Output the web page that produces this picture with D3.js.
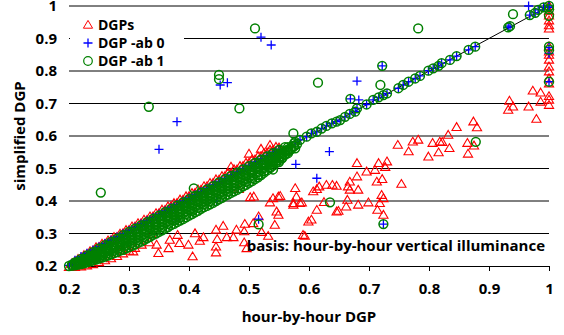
<!DOCTYPE html>
<html>
<head>
<meta charset="utf-8">
<script src="https://cdn.jsdelivr.net/npm/d3@7"></script>
<style>
  body { margin: 0; background: #fff; }
  svg text { font-family: "Open Sans", sans-serif; font-weight: bold; fill: #000; }
</style>
</head>
<body>
<svg id="chart" width="564" height="335"></svg>
<script>
// axis ticks
const xTicks = [0.2, 0.3, 0.4, 0.5, 0.6, 0.7, 0.8, 0.9, 1];
const yTicks = [0.2, 0.3, 0.4, 0.5, 0.6, 0.7, 0.8, 0.9, 1];
const gridValues = [0.3, 0.4, 0.5, 0.6, 0.7, 0.8, 0.9, 1];

const bandX = [0.20,0.21,0.22,0.23,0.24,0.25,0.26,0.27,0.28,0.29,0.30,0.31,0.32,0.33,0.34,0.35,0.36,0.37,0.38,0.39,
  0.40,0.41,0.42,0.43,0.44,0.45,0.46,0.47,0.48,0.49,0.50,0.51,0.52,0.53,0.54,0.55,0.56,0.57,0.58];
const bandXHalf = [0.205,0.215,0.225,0.235,0.245,0.255,0.265,0.275,0.285,0.295,0.305,0.315,0.325,0.335,0.345,0.355,
  0.365,0.375,0.385,0.395,0.405,0.415,0.425,0.435,0.445,0.455,0.465,0.475,0.485,0.495,0.505,0.515,0.525,0.535,0.545,
  0.555,0.565,0.575];

// DGPs band (red): top edge, second row
const dgpsTop = [0.208,0.221,0.233,0.245,0.257,0.268,0.278,0.289,0.299,0.310,0.321,0.331,0.342,0.352,0.362,0.373,
  0.383,0.393,0.404,0.414,0.424,0.435,0.445,0.455,0.466,0.476,0.486,0.497,0.507,0.517,0.527,0.537,0.547,0.557,0.566,
  null,null,null];
const dgpsUpper = [null,0.214,0.225,0.236,0.247,0.258,0.268,0.279,0.289,0.300,0.310,0.321,0.331,0.341,0.352,0.362,
  0.372,0.383,0.393,0.403,0.414,0.424,0.434,0.445,0.455,0.465,0.476,0.486,0.496,0.507,0.517,0.527,0.537,0.547,0.556,
  0.564,null,null,null];
const dgpsLowerEdge = [
  [0.20,0.196],[0.21,0.196],[0.22,0.198],[0.23,0.201],[0.24,0.205],[0.25,0.211],[0.26,0.217],[0.27,0.223],
  [0.28,0.230],[0.29,0.238],[0.30,0.246],[0.31,0.255]
];

// DGPs scattered below the diagonal and at x = 1
const dgpsScatter = [
  [0.47,0.505],[0.50,0.545],[0.52,0.560],[0.535,0.572],
  [0.288,0.249],[0.307,0.244],[0.321,0.265],[0.334,0.272],[0.337,0.298],[0.346,0.265],[0.349,0.239],[0.366,0.254],
  [0.368,0.280],[0.381,0.295],[0.384,0.270],[0.399,0.265],[0.406,0.229],[0.410,0.300],[0.418,0.277],[0.424,0.288],
  [0.445,0.311],[0.447,0.282],[0.445,0.259],[0.445,0.241],[0.457,0.323],[0.463,0.288],[0.474,0.288],[0.479,0.311],
  [0.492,0.306],[0.493,0.329],[0.492,0.272],[0.496,0.254],[0.507,0.331],[0.516,0.352],[0.521,0.304],[0.532,0.292],
  [0.543,0.326],[0.549,0.357],[0.546,0.367],[0.535,0.395],[0.574,0.393],[0.585,0.393],[0.590,0.295],[0.599,0.336],
  [0.604,0.342],[0.593,0.292],
  [0.483,0.436],[0.502,0.411],[0.508,0.413],[0.540,0.408],[0.549,0.413],[0.552,0.415],[0.577,0.439],[0.579,0.413],
  [0.588,0.395],[0.574,0.388],[0.607,0.429],[0.613,0.436],[0.617,0.444],[0.629,0.449],[0.639,0.449],[0.646,0.446],
  [0.613,0.372],[0.646,0.367],[0.625,0.396],[0.649,0.369],[0.664,0.403],[0.662,0.382],[0.682,0.388],[0.699,0.395],
  [0.665,0.444],[0.668,0.434],[0.668,0.459],[0.680,0.475],[0.682,0.434],[0.680,0.516],[0.696,0.490],[0.710,0.495],
  [0.716,0.516],[0.730,0.521],[0.727,0.504],[0.713,0.459],[0.722,0.467],[0.754,0.452],[0.721,0.418],[0.724,0.408],
  [0.718,0.393],[0.714,0.372],[0.724,0.357],
  [0.748,0.572],[0.773,0.582],[0.782,0.588],[0.766,0.552],[0.799,0.536],[0.806,0.578],[0.818,0.582],[0.822,0.581],
  [0.816,0.549],[0.832,0.603],[0.834,0.562],[0.846,0.627],[0.864,0.578],[0.865,0.545],[0.875,0.570],[0.874,0.644],
  [0.880,0.626],[0.934,0.708],[0.940,0.690],[0.932,0.680],[0.966,0.690],[0.979,0.652],[0.973,0.739],[0.986,0.733],
  [0.986,0.705],
  [1,0.695],[1,0.711],[1,0.722],[1,0.761],[1,0.777],[1,0.798],[1,0.813],[1,0.834],[1,0.849],[1,0.859],[1,0.875],
  [1,0.930],[1,0.940],[1,0.955],[1,0.970],[1,0.985],[1,1]
];

// DGP -ab 0 band (blue), just under the red top edge
const ab0Upper = [0.202,0.218,0.229,0.239,0.249,0.259,0.269,0.279,0.289,0.299,0.309,0.319,0.329,0.339,0.349,0.359,
  0.369,0.379,0.389,0.399,0.409,0.419,0.429,0.439,0.449,0.459,0.469,0.479,0.489,0.499,0.509,0.519,0.529,0.539,0.549,
  0.558,null,null,null];
const ab0Mid = [0.207,0.219,0.229,0.240,0.251,0.260,0.270,0.281,0.290,0.300,0.311,0.320,0.330,0.341,0.350,0.360,
  0.371,0.380,0.390,0.401,0.410,0.420,0.431,0.440,0.450,0.461,0.470,0.480,0.491,0.500,0.510,0.521,0.530,0.540,0.551,
  null,null,null];
const ab0Scatter = [
  [0.350,0.559],[0.380,0.644],[0.452,0.757],[0.464,0.764],[0.520,0.904],[0.537,0.880],[0.446,0.400],[0.516,0.344],
  [0.578,0.513],[0.613,0.470],[0.634,0.552],[0.680,0.769],[0.669,0.714],[0.683,0.711],[0.722,0.816],[0.724,0.329],
  [0.378,0.342],[0.966,1.000],[1,0.767],[1,0.854],[1,0.872],[1,0.996],
  [0.577,0.582],[0.585,0.588],[0.596,0.598],[0.604,0.608],[0.613,0.613],[0.621,0.623],[0.629,0.631],[0.638,0.639],
  [0.646,0.644],[0.652,0.649],[0.660,0.659],[0.668,0.668],[0.677,0.675],[0.680,0.685],[0.696,0.697],[0.707,0.711],
  [0.716,0.719],[0.724,0.726],[0.730,0.731],[0.749,0.747],[0.757,0.757],[0.766,0.767],[0.777,0.777],[0.785,0.785],
  [0.799,0.801],[0.807,0.808],[0.816,0.816],[0.821,0.824],[0.835,0.834],[0.846,0.846],[0.866,0.865],[0.877,0.875],
  [0.932,0.934],[0.935,0.938],[0.968,0.972],[0.977,0.979],[0.982,0.988],[0.991,0.996],[1,1]
];

// DGP -ab 1 band (green), rows from bottom edge to top
const ab1Row0 = [0.200,0.202,0.206,0.211,0.217,0.223,0.229,0.236,0.243,0.250,0.258,0.266,0.275,0.285,0.296,0.305,
  0.315,0.326,0.335,0.344,0.355,0.365,0.376,0.385,0.394,0.405,0.416,0.425,0.434,0.445,0.456,0.467,0.480,0.494,0.509,
  0.525,0.542,null,null];
const ab1Row0b = [0.201,0.204,0.208,0.214,0.220,0.226,0.232,0.240,0.247,0.254,0.262,0.271,0.280,0.290,0.300,0.310,
  0.320,0.330,0.340,0.350,0.360,0.370,0.381,0.390,0.400,0.410,0.420,0.430,0.440,0.450,0.461,0.473,0.487,0.501,0.517,
  0.533,null,null];
const ab1Row1 = [0.202,0.206,0.211,0.218,0.225,0.232,0.239,0.247,0.255,0.263,0.271,0.280,0.289,0.299,0.310,0.319,
  0.329,0.340,0.349,0.359,0.369,0.379,0.390,0.399,0.409,0.420,0.429,0.439,0.449,0.459,0.470,0.480,0.492,0.504,0.518,
  0.531,0.547,null];
const ab1Row2 = [null,0.205,0.211,0.218,0.226,0.234,0.242,0.250,0.258,0.266,0.275,0.284,0.293,0.303,0.313,0.323,
  0.333,0.343,0.353,0.363,0.373,0.383,0.393,0.403,0.413,0.423,0.433,0.443,0.453,0.463,0.473,0.484,0.495,0.507,0.519,
  0.532,0.545,0.559,null];
const ab1Row2b = [null,0.208,0.214,0.222,0.230,0.238,0.246,0.254,0.262,0.271,0.280,0.289,0.298,0.308,0.318,0.328,
  0.338,0.348,0.358,0.368,0.378,0.388,0.398,0.408,0.418,0.428,0.438,0.448,0.458,0.468,0.478,0.489,0.501,0.513,0.525,
  0.538,0.552,null];
const ab1Row3 = [null,0.209,0.216,0.224,0.232,0.241,0.250,0.259,0.268,0.278,0.288,0.298,0.308,0.318,0.328,0.338,
  0.348,0.358,0.368,0.378,0.388,0.398,0.408,0.418,0.428,0.438,0.448,0.458,0.468,0.478,0.488,0.499,0.510,0.521,0.532,
  0.544,0.556,0.568];
const ab1Row4 = [null,0.207,0.214,0.223,0.232,0.241,0.251,0.261,0.271,0.281,0.291,0.301,0.311,0.322,0.331,0.342,
  0.351,0.362,0.371,0.382,0.391,0.401,0.412,0.421,0.432,0.441,0.452,0.461,0.472,0.481,0.492,0.502,0.512,0.522,0.533,
  0.543,0.553,0.564,0.575];
const ab1Row4b = [null,0.211,0.219,0.228,0.237,0.246,0.256,0.266,0.276,0.286,0.296,0.306,0.317,0.327,0.337,0.347,
  0.357,0.367,0.377,0.387,0.397,0.407,0.417,0.427,0.437,0.447,0.457,0.467,0.477,0.487,0.497,0.507,0.517,0.528,0.538,
  0.548,0.559,0.570];
const ab1Row5 = [0.204,0.213,0.222,0.232,0.243,0.253,0.263,0.273,0.284,0.294,0.304,0.314,0.324,0.334,0.344,0.354,
  0.364,0.374,0.384,0.394,0.404,0.414,0.424,0.434,0.445,0.455,0.465,0.475,0.485,0.495,0.505,0.516,0.526,0.536,0.546,
  0.556,0.566,0.577];
const ab1Row5b = [null,0.211,0.222,0.233,0.243,0.254,0.264,0.274,0.284,0.295,0.305,0.315,0.325,0.335,0.345,0.355,
  0.366,0.376,0.386,0.396,0.406,0.416,0.426,0.436,0.446,0.457,0.467,0.477,0.487,0.497,0.507,0.517,0.527,0.537,0.547,
  0.557,0.566,null,null];
const ab1Scatter = [
  [0.253,0.426],[0.333,0.690],[0.450,0.788],[0.450,0.775],[0.484,0.685],[0.510,0.931],[0.615,0.764],[0.669,0.714],
  [0.719,0.757],[0.722,0.816],[0.782,0.931],[0.940,0.975],[0.635,0.396],[0.724,0.329],[0.516,0.328],[0.378,0.342],
  [0.402,0.372],[0.430,0.403],[0.408,0.439],[0.878,0.582],[0.574,0.608],[0.577,0.562],[0.540,0.497],[0.550,0.520],
  [1,0.767],[1,0.865],[1,0.875],[1,0.970],[1,0.990],
  [0.577,0.582],[0.585,0.588],[0.596,0.598],[0.604,0.608],[0.613,0.613],[0.621,0.623],[0.629,0.631],[0.638,0.639],
  [0.646,0.644],[0.652,0.649],[0.660,0.659],[0.668,0.668],[0.677,0.675],[0.680,0.685],[0.696,0.697],[0.707,0.711],
  [0.716,0.719],[0.724,0.726],[0.730,0.731],[0.749,0.747],[0.757,0.757],[0.766,0.767],[0.777,0.777],[0.785,0.785],
  [0.799,0.801],[0.807,0.808],[0.816,0.816],[0.821,0.824],[0.835,0.834],[0.846,0.846],[0.866,0.865],[0.877,0.875],
  [0.932,0.934],[0.935,0.938],[0.968,0.972],[0.977,0.979],[0.982,0.988],[0.991,0.996],[1,1]
];

const seriesNames = ["DGPs", "DGP -ab 0", "DGP -ab 1"];
const seriesColors = ["#ff0000", "#0000ff", "#008000"];

// pair a row of y readings with its x grid
const row = (xs, ys) => xs.map((v, i) => [v, ys[i]]).filter(d => d[1] != null);

const dgpsPoints = [].concat(row(bandXHalf, dgpsTop), row(bandX, dgpsUpper), dgpsLowerEdge, dgpsScatter);
const ab0Points = [].concat(row(bandX, ab0Upper), row(bandXHalf, ab0Mid), ab0Scatter);
const ab1Points = [].concat(
  row(bandX, ab1Row0), row(bandXHalf, ab1Row0b), row(bandXHalf, ab1Row1), row(bandX, ab1Row2),
  row(bandXHalf, ab1Row2b), row(bandXHalf, ab1Row3), row(bandX, ab1Row4), row(bandXHalf, ab1Row4b),
  row(bandXHalf, ab1Row5), row(bandX, ab1Row5b), ab1Scatter);

const svg = d3.select("#chart");

const x = d3.scaleLinear().domain([0.2, 1]).range([69, 549]);
const y = d3.scaleLinear().domain([0.2, 1]).range([266, 6]);

// gridlines
svg.append("g")
  .selectAll("line")
  .data(gridValues)
  .enter().append("line")
    .attr("x1", x(0.2))
    .attr("x2", x(1))
    .attr("y1", d => y(d))
    .attr("y2", d => y(d))
    .attr("stroke", "#000")
    .attr("stroke-width", 1);

// x axis
svg.append("g")
    .attr("transform", `translate(0,${y(0.2)})`)
    .call(d3.axisBottom(x).tickValues(xTicks).tickSize(5).tickFormat(d => String(d)))
    .call(g => g.select(".domain").attr("stroke", "#000"))
    .call(g => g.selectAll(".tick line").attr("stroke", "#000"))
    .call(g => g.selectAll("text")
      .attr("dy", null)
      .attr("y", 28)
      .style("font-size", "15px")
      .style("font-family", "'Open Sans', sans-serif")
      .style("font-weight", "bold"));

// y axis (labels only)
svg.append("g")
    .attr("transform", `translate(${x(0.2)},0)`)
    .call(d3.axisLeft(y).tickValues(yTicks).tickSize(0).tickPadding(12).tickFormat(d => String(d)))
    .call(g => g.select(".domain").remove())
    .call(g => g.selectAll("text")
      .style("font-size", "15px")
      .style("font-family", "'Open Sans', sans-serif")
      .style("font-weight", "bold"));

// 1:1 line
svg.append("line")
    .attr("x1", x(0.2)).attr("y1", y(0.2))
    .attr("x2", x(1)).attr("y2", y(1))
    .attr("stroke", "#000")
    .attr("stroke-width", 1);

const triangle = "M0,-4.6L4.6,3.2L-4.6,3.2Z";
const plus = "M-4.5,0H4.5M0,-4.5V4.5";

function drawSeries(data, kind, color) {
  const g = svg.append("g");
  if (kind === "circle") {
    g.selectAll("circle")
      .data(data)
      .enter().append("circle")
        .attr("cx", d => x(d[0]))
        .attr("cy", d => y(d[1]))
        .attr("r", 4.4)
        .attr("fill", "none")
        .attr("stroke", color)
        .attr("stroke-width", 1.5);
  } else {
    g.selectAll("path")
      .data(data)
      .enter().append("path")
        .attr("transform", d => `translate(${x(d[0])},${y(d[1])})`)
        .attr("d", kind === "triangle" ? triangle : plus)
        .attr("fill", "none")
        .attr("stroke", color)
        .attr("stroke-width", kind === "triangle" ? 1.1 : 1.3);
  }
}

drawSeries(dgpsPoints, "triangle", seriesColors[0]);
drawSeries(ab0Points, "plus", seriesColors[1]);
drawSeries(ab1Points, "circle", seriesColors[2]);

// legend
const legend = svg.append("g");
legend.append("rect")
    .attr("x", 70).attr("y", 9)
    .attr("width", 114).attr("height", 60)
    .attr("fill", "#fff");
const kinds = ["triangle", "plus", "circle"];
seriesNames.forEach((name, i) => {
  const ly = 25 + i * 18;
  if (kinds[i] === "circle") {
    legend.append("circle").attr("cx", 88).attr("cy", ly).attr("r", 4.3)
      .attr("fill", "none").attr("stroke", seriesColors[i]).attr("stroke-width", 1.2);
  } else {
    legend.append("path").attr("transform", `translate(88,${ly})`)
      .attr("d", kinds[i] === "triangle" ? triangle : plus)
      .attr("fill", "none").attr("stroke", seriesColors[i])
      .attr("stroke-width", kinds[i] === "triangle" ? 1 : 1.3);
  }
  legend.append("text")
    .attr("x", 98).attr("y", ly + 5)
    .style("font-size", "14px")
    .text(name);
});

// annotation
svg.append("text")
    .attr("x", 545).attr("y", 251)
    .attr("text-anchor", "end")
    .style("font-size", "15px")
    .text("basis: hour-by-hour vertical illuminance");

// axis titles
svg.append("text")
    .attr("x", 309).attr("y", 322)
    .attr("text-anchor", "middle")
    .style("font-size", "15px")
    .text("hour-by-hour DGP");

svg.append("text")
    .attr("transform", "translate(25,136) rotate(-90)")
    .attr("text-anchor", "middle")
    .style("font-size", "15px")
    .text("simplified DGP");
</script>
</body>
</html>
